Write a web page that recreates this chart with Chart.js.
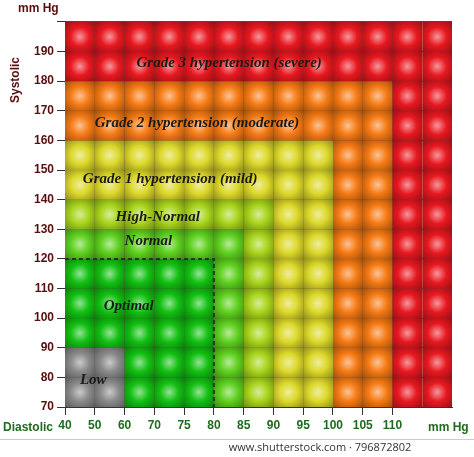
<!DOCTYPE html>
<html>
<head>
<meta charset="utf-8">
<script src="https://cdn.jsdelivr.net/npm/chart.js@4/dist/chart.umd.min.js"></script>
<style>
body { margin: 0; background: #fff; }
#wrap { width: 474px; height: 457px; position: relative; }
</style>
</head>
<body>
<div id="wrap"><canvas id="chart"></canvas></div>
<script>
// diastolic column labels (column boundaries), systolic rows
const xTickLabels = ['40', '50', '60', '70', '75', '80', '85', '90', '95', '100', '105', '110'];
const columnCount = 13;
const yMin = 70, yMax = 200, yStep = 10;
// zones: name, colour, min column index, min systolic (a cell belongs to first zone it hits)
const zoneNames = ['Grade 3 hypertension (severe)', 'Grade 2 hypertension (moderate)', 'Grade 1 hypertension (mild)', 'High-Normal', 'Normal', 'Optimal'];
const zoneColors = ['#e81820', '#f57a14', '#dcd82a', '#a8d41c', '#5ed01e', '#12c012'];
const zoneMinCol = [11, 9, 7, 6, 5, 0];
const zoneMinSys = [180, 160, 140, 130, 120, 0];
const lowCols = 2, lowSysMax = 90, lowColor = '#8a8a8a';
// label positions in cell units / mmHg
const labelX = [2.4, 1.0, 0.6, 1.7, 2.0, 1.3, 0.5];
const labelY = [186, 166, 147, 134, 126, 104, 79];
const labelText = ['Grade 3 hypertension (severe)', 'Grade 2 hypertension (moderate)', 'Grade 1 hypertension (mild)', 'High-Normal', 'Normal', 'Optimal', 'Low'];

function cellColor(col, sys) {
	if (col < lowCols && sys < lowSysMax) return lowColor;
	for (let i = 0; i < zoneNames.length; i++) {
		if (col >= zoneMinCol[i] || sys >= zoneMinSys[i]) return zoneColors[i];
	}
	return zoneColors[zoneColors.length - 1];
}

const cells = [];
for (let c = 0; c < columnCount; c++) {
	for (let s = yMin; s < yMax; s += yStep) {
		cells.push({ x: c + 0.5, y: s + yStep / 2, color: cellColor(c, s) });
	}
}

function shade(hex, f) {
	let n = parseInt(hex.slice(1), 16);
	let r = n >> 16, g = (n >> 8) & 255, b = n & 255;
	if (f > 0) { r += (255 - r) * f; g += (255 - g) * f; b += (255 - b) * f; }
	else { r *= 1 + f; g *= 1 + f; b *= 1 + f; }
	return 'rgb(' + Math.round(r) + ',' + Math.round(g) + ',' + Math.round(b) + ')';
}

function cellSize(chart) {
	const xs = chart.scales.x;
	if (!xs) return 31;
	const d = xs.getPixelForValue(1) - xs.getPixelForValue(0);
	return isFinite(d) && d > 0 ? d : 31;
}

const bubble = function(context) {
	const chart = context.chart;
	const p = context.raw;
	if (!chart.scales.x || !p) return '#888';
	const x = chart.scales.x.getPixelForValue(p.x);
	const y = chart.scales.y.getPixelForValue(p.y);
	if (!isFinite(x) || !isFinite(y)) return p.color;
	const r = cellSize(chart) / 2;
	const g = chart.ctx.createRadialGradient(x, y, 0, x, y, r * 1.4);
	g.addColorStop(0, shade(p.color, 0.55));
	g.addColorStop(0.45, p.color);
	g.addColorStop(1, shade(p.color, -0.35));
	return g;
};

const labelsPlugin = {
	id: 'zoneLabels',
	afterDatasetsDraw(chart) {
		const ctx = chart.ctx, xs = chart.scales.x, ys = chart.scales.y;
		ctx.save();
		ctx.font = 'bold italic 15px "Liberation Serif", "DejaVu Serif", serif';
		ctx.fillStyle = '#1a1a1a';
		ctx.textBaseline = 'middle';
		for (let i = 0; i < labelText.length; i++) {
			ctx.fillText(labelText[i], xs.getPixelForValue(labelX[i]), ys.getPixelForValue(labelY[i]));
		}
		ctx.font = 'bold 12px "Liberation Sans", Arial, sans-serif';
		ctx.fillStyle = '#1f6b1f';
		ctx.fillText('Diastolic', 3, 428);
		ctx.fillText('mm Hg', 428, 428);
		ctx.fillStyle = '#5a0d0d';
		ctx.fillText('mm Hg', 18, 9);
		ctx.save();
		ctx.translate(16, 80);
		ctx.rotate(-Math.PI / 2);
		ctx.textAlign = 'center';
		ctx.fillText('Systolic', 0, 0);
		ctx.restore();
		ctx.font = '11px "Open Sans", sans-serif';
		ctx.fillStyle = '#333';
		ctx.textAlign = 'center';
		ctx.fillText('www.shutterstock.com · 796872802', 320, 448);
		ctx.strokeStyle = '#ccc';
		ctx.beginPath(); ctx.moveTo(0, 439.5); ctx.lineTo(474, 439.5); ctx.stroke();
		ctx.restore();
	}
};

new Chart(document.getElementById('chart'), {
	type: 'scatter',
	data: {
		datasets: [{
			data: [[0, 120], [5, 120], [5, 70]].map(function(p) { return { x: p[0], y: p[1] }; }),
			showLine: true,
			borderColor: '#1e3a1e',
			borderWidth: 2,
			borderDash: [4, 3],
			pointRadius: 0,
			order: 0
		}, {
			data: cells,
			pointStyle: 'rect',
			rotation: 0,
			pointRadius: function(c) { return cellSize(c.chart) / 2 / Math.SQRT1_2; },
			pointHoverRadius: function(c) { return cellSize(c.chart) / 2 / Math.SQRT1_2; },
			backgroundColor: bubble,
			borderWidth: 0,
			order: 1
		}]
	},
	options: {
		responsive: true,
		maintainAspectRatio: false,
		animation: false,
		layout: { padding: { top: 4, right: 4, left: 0, bottom: 0 } },
		plugins: { legend: { display: false }, tooltip: { enabled: false } },
		scales: {
			x: {
				type: 'linear', min: 0, max: columnCount,
				afterFit: function(s) { s.height = 50; },
				afterBuildTicks: function(s) { s.ticks = xTickLabels.map(function(l, i) { return { value: i }; }); },
				ticks: {
					autoSkip: false,
					callback: function(v) { return xTickLabels[v]; },
					color: '#1f6b1f',
					font: { family: '"Liberation Sans", Arial, sans-serif', size: 12, weight: 'bold' }
				},
				grid: { color: 'rgba(40,0,0,0.75)', tickColor: '#333', tickLength: 8, drawOnChartArea: true },
				border: { color: '#333' }
			},
			y: {
				min: yMin, max: yMax,
				afterFit: function(s) { s.width = 65; },
				ticks: {
					stepSize: 10,
					callback: function(v) { return v >= 200 ? '' : v; },
					color: '#5a0d0d',
					font: { family: '"Liberation Sans", Arial, sans-serif', size: 12, weight: 'bold' }
				},
				grid: { color: 'rgba(40,0,0,0.75)', tickColor: '#333', tickLength: 8 },
				border: { color: '#333' }
			}
		}
	},
	plugins: [labelsPlugin]
});
</script>
</body>
</html>
